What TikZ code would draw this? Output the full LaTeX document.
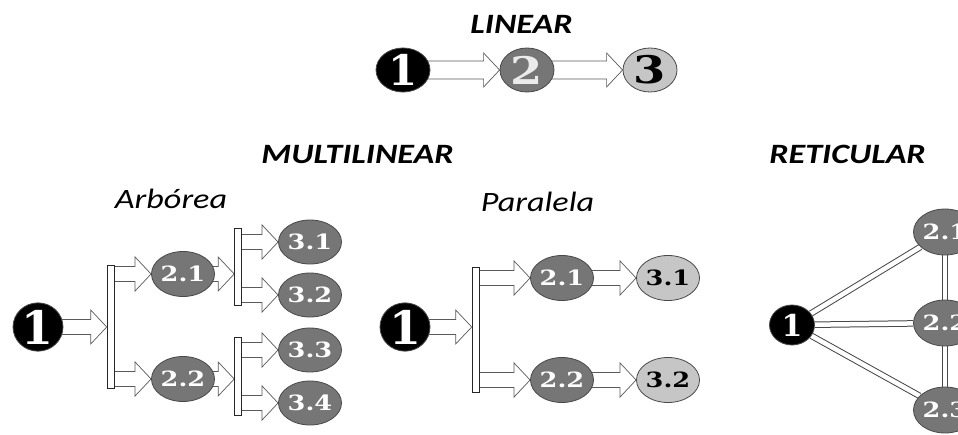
\documentclass[tikz,border=0pt]{standalone}
\usepackage{fontspec}
\newfontfamily\titlefont{Carlito}
\newfontfamily\digitfont{DejaVu Serif}
\usepackage{graphicx}
\usetikzlibrary{shapes.geometric,calc,backgrounds}
\definecolor{darkdot}{HTML}{767676}
\definecolor{lightdot}{HTML}{C6C6C6}
\definecolor{rimgray}{HTML}{484848}
\definecolor{arrowgray}{HTML}{5A5A5A}
\newcommand{\wide}[1]{\scalebox{1.22}[1]{#1}}

\tikzset{
    dot/.style={ellipse, draw=rimgray, line width=0.8pt, inner sep=0pt,
        minimum width=50pt, minimum height=45pt,
        font=\digitfont\bfseries\fontsize{21}{21}\selectfont},
    blackdot/.style={dot, fill=black, text=white},
    graydot/.style={dot, fill=darkdot, text=white},
    palegray/.style={dot, fill=lightdot, text=black},
    digitsize/.style={font=\digitfont\bfseries\fontsize{#1}{#1}\selectfont},
    bar/.style={rectangle, draw=black!85, fill=white, line width=0.6pt,
        minimum width=7pt, inner sep=0pt},
    blockarrow/.style={draw=arrowgray, fill=white, line width=0.7pt,
        to path={let \p1=(\tikztostart), \p2=(\tikztotarget) in
            (\x1,\y1+#1) -- (\x2-16pt,\y1+#1) -- (\x2-16pt,\y1+17pt) -- (\x2,\y1)
            -- (\x2-16pt,\y1-17pt) -- (\x2-16pt,\y1-#1) -- (\x1,\y1-#1)}},
    blockarrow/.default=7.5pt,
    link/.style={draw=rimgray, double=white, double distance=4.5pt, line width=1pt},
    heading/.style={anchor=base, inner sep=0pt,
        font=\titlefont\bfseries\itshape\fontsize{28}{28}\selectfont},
    subheading/.style={anchor=base, inner sep=0pt,
        font=\titlefont\itshape\fontsize{28}{28}\selectfont},
}

\begin{document}
\begin{tikzpicture}[x=1pt, y=-1pt]
    \path[use as bounding box, clip] (0, 0) rectangle (958, 434);

    % titles
    \node [heading] (tlinear) at (521.5, 33) {\wide{LINEAR}};
    \node [heading] (tmulti) at (357.5, 163) {\wide{MULTILINEAR}};
    \node [heading] (treti) at (847.5, 163) {\wide{RETICULAR}};
    \node [subheading] (tarbo) at (171, 208) {\wide{Arbórea}};
    \node [subheading] (tpara) at (537.5, 211) {\wide{Paralela}};

    % linear
    \node [blackdot, minimum width=54pt, minimum height=44pt, digitsize=42] (l1) at (403, 70) {1};
    \node [graydot, minimum width=54pt, minimum height=44pt, digitsize=38, text=black!8] (l2) at (527, 70) {\wide{2}};
    \node [palegray, minimum width=54pt, minimum height=44pt, digitsize=38] (l3) at (650, 70) {\wide{3}};

    % multilinear: arborea
    \node [blackdot, minimum height=40pt, digitsize=46] (a1) at (38, 327) {1};
    \node [bar, minimum height=123pt] (abar) at (110.5, 326.5) {};
    \node [graydot] (a21) at (183, 274) {\wide{2.1}};
    \node [graydot] (a22) at (183, 379) {\wide{2.2}};
    \node [bar, minimum height=77pt] (abar1) at (238, 266.5) {};
    \node [bar, minimum height=78pt] (abar2) at (238, 376) {};
    \node [graydot, minimum height=44pt] (a31) at (310, 242) {\wide{3.1}};
    \node [graydot, minimum height=44pt] (a32) at (310, 295) {\wide{3.2}};
    \node [graydot, minimum height=44pt] (a33) at (310, 350) {\wide{3.3}};
    \node [graydot, minimum height=44pt] (a34) at (310, 403) {\wide{3.4}};

    % multilinear: paralela
    \node [blackdot, minimum height=40pt, digitsize=46] (p1) at (405, 327) {1};
    \node [bar, minimum height=125pt] (pbar) at (475.5, 329.5) {};
    \node [graydot] (p21) at (562, 278) {\wide{2.1}};
    \node [graydot] (p22) at (562, 380) {\wide{2.2}};
    \node [palegray] (p31) at (668, 278) {\wide{3.1}};
    \node [palegray] (p32) at (668, 380) {\wide{3.2}};

    % reticular
    \node [blackdot, minimum width=45pt, minimum height=40pt, digitsize=30] (r1) at (792, 325) {1};
    \node [graydot, minimum width=48pt, minimum height=46pt] (r21) at (945, 232) {\wide{2.1}};
    \node [graydot, minimum width=48pt, minimum height=46pt] (r22) at (945, 323) {\wide{2.2}};
    \node [graydot, minimum width=48pt, minimum height=46pt] (r23) at (945, 410) {\wide{2.3}};

    \begin{scope}[on background layer]
        \draw [blockarrow=9pt] (l1) to (l2.west);
        \draw [blockarrow=9pt] (l2) to (l3.west);

        \draw [blockarrow] (a1) to (abar.west);
        \draw [blockarrow] (abar.east |- a21.west) to (a21.west);
        \draw [blockarrow] (abar.east |- a22.west) to (a22.west);
        \draw [blockarrow] (a21) to (abar1.west);
        \draw [blockarrow] (a22) to (abar2.west);
        \foreach \tgt in {a31, a32} {
            \draw [blockarrow] (abar1.east |- \tgt.west) to (\tgt.west);
        }
        \foreach \tgt in {a33, a34} {
            \draw [blockarrow] (abar2.east |- \tgt.west) to (\tgt.west);
        }

        \draw [blockarrow] (p1) to (pbar.west);
        \draw [blockarrow] (pbar.east |- p21.west) to (p21.west);
        \draw [blockarrow] (pbar.east |- p22.west) to (p22.west);
        \draw [blockarrow] (p21) to (p31.west);
        \draw [blockarrow] (p22) to (p32.west);

        \foreach \tgt in {r21, r22, r23} {
            \draw [link] (r1) -- (\tgt);
        }
        \draw [link] (r21) -- (r22);
        \draw [link] (r22) -- (r23);
    \end{scope}
\end{tikzpicture}
\end{document}
